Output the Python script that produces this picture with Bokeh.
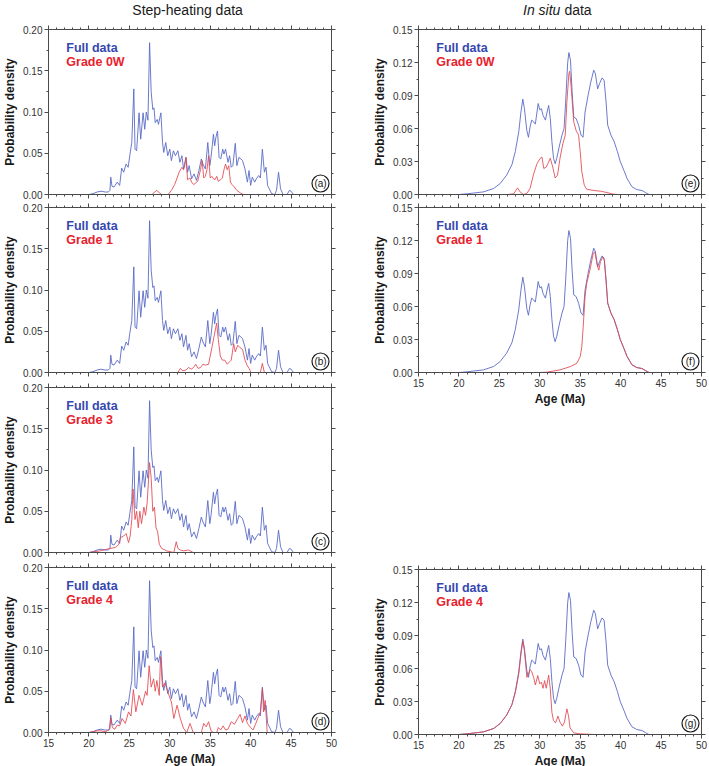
from bokeh.plotting import figure
from bokeh.models import (LinearAxis, SingleIntervalTicker, Range1d, Label,
                          NumeralTickFormatter, CustomJSTickFormatter, Spacer)
from bokeh.layouts import column, row
from bokeh.embed import file_html
from bokeh.resources import INLINE

# ---------------- data ----------------
# Step-heating, full data
sh_full_age = [15, 20.0, 20.5, 21.0, 21.5, 22.0, 22.4, 22.6, 22.7, 22.85, 23.1, 23.5, 23.8, 24.05, 24.3, 24.6,
               24.85, 25.05, 25.3, 25.55, 25.7, 25.9, 26.2, 26.4, 26.7, 26.9, 27.1, 27.3, 27.5, 27.7, 27.9,
               28.05, 28.2, 28.45, 28.6, 28.9, 29.1, 29.25, 29.5, 29.75, 30.0, 30.2, 30.45, 30.7, 31.0, 31.25,
               31.5, 31.7, 32.0, 32.2, 32.4, 32.7, 33.0, 33.3, 33.6, 33.9, 34.1, 34.4, 34.7, 34.95, 35.1, 35.4,
               35.55, 35.7, 35.9, 36.1, 36.3, 36.55, 36.7, 36.9, 37.2, 37.4, 37.6, 37.8, 38.1, 38.3, 38.55,
               38.8, 39.0, 39.3, 39.6, 39.8, 40.0, 40.2, 40.5, 40.7, 41.0, 41.2, 41.45, 41.7, 41.9, 42.1, 42.3,
               42.6, 43.0, 43.2, 43.45, 43.7, 44.0, 44.5, 44.8, 45.0, 45.3, 50]
sh_full_pd = [0, 0, 0.001, 0.003, 0.004, 0.003, 0.003, 0.005, 0.021, 0.010, 0.009, 0.015, 0.011, 0.032, 0.027,
              0.037, 0.033, 0.047, 0.063, 0.128, 0.055, 0.053, 0.099, 0.067, 0.099, 0.079, 0.100, 0.090, 0.184,
              0.124, 0.103, 0.105, 0.087, 0.091, 0.085, 0.099, 0.063, 0.051, 0.063, 0.047, 0.055, 0.041, 0.053,
              0.047, 0.053, 0.039, 0.047, 0.031, 0.045, 0.027, 0.035, 0.019, 0.025, 0.017, 0.029, 0.043, 0.037,
              0.031, 0.063, 0.035, 0.045, 0.073, 0.059, 0.069, 0.077, 0.045, 0.043, 0.055, 0.049, 0.055, 0.039,
              0.047, 0.033, 0.035, 0.062, 0.035, 0.045, 0.043, 0.041, 0.031, 0.015, 0.029, 0.011, 0.021, 0.015,
              0.019, 0.023, 0.020, 0.055, 0.027, 0.033, 0.011, 0.007, 0.001, 0, 0.005, 0.027, 0.007, 0, 0,
              0.005, 0.004, 0, 0]

# Step-heating, Grade 0W
sh_g0w_age = [15, 27.8, 28.1, 28.4, 28.7, 29.0, 29.8, 30.2, 30.6, 30.9, 31.2, 31.5, 31.7, 31.85, 32.0, 32.2,
              32.5, 32.7, 32.95, 33.2, 33.45, 33.8, 34.0, 34.2, 34.4, 34.6, 34.8, 35.0, 35.2, 35.4, 35.6, 35.8,
              36.0, 36.3, 36.5, 36.7, 36.9, 37.1, 37.3, 37.5, 37.7, 37.9, 38.3, 38.7, 39.1, 50]
sh_g0w_pd = [0, 0, 0.003, 0.005, 0.002, 0, 0, 0.005, 0.012, 0.02, 0.028, 0.033, 0.03, 0.035, 0.045, 0.018,
             0.02, 0.015, 0.012, 0.014, 0.016, 0.03, 0.041, 0.02, 0.022, 0.03, 0.047, 0.02, 0.022, 0.019, 0.018,
             0.022, 0.016, 0.018, 0.02, 0.03, 0.037, 0.03, 0.035, 0.015, 0.012, 0.01, 0.005, 0.002, 0, 0]

# Step-heating, Grade 1
sh_g1_age = [15, 31.0, 31.3, 31.6, 32.0, 32.3, 32.7, 33.0, 33.2, 33.5, 33.8, 34.1, 34.4, 34.8, 35.0, 35.2, 35.5,
             35.8, 36.0, 36.25, 36.5, 36.8, 37.1, 37.4, 37.6, 37.9, 38.1, 38.4, 38.7, 39.0, 39.3, 39.6, 39.8,
             40.05, 41.2, 41.45, 41.7, 50]
sh_g1_pd = [0, 0, 0.005, 0.002, 0.003, 0.006, 0.004, 0.007, 0.01, 0.005, 0.006, 0.01, 0.009, 0.01, 0.02, 0.03,
            0.045, 0.06, 0.04, 0.02, 0.015, 0.015, 0.01, 0.013, 0.015, 0.035, 0.025, 0.033, 0.03, 0.028, 0.015,
            0.008, 0.005, 0, 0, 0.011, 0, 0]

# Step-heating, Grade 3
sh_g3_age = [15, 20.0, 21.4, 22.6, 23.25, 23.7, 23.9, 24.3, 24.6, 24.9, 25.1, 25.3, 25.45, 25.7, 25.9, 26.1,
             26.3, 26.5, 26.8, 27.0, 27.2, 27.5, 27.7, 27.9, 28.1, 28.3, 28.5, 28.7, 29.0, 29.6, 30.5, 30.8,
             31.0, 31.3, 31.7, 32.3, 32.9, 50]
sh_g3_pd = [0, 0, 0.002, 0.005, 0.006, 0.01, 0.018, 0.02, 0.023, 0.012, 0.02, 0.04, 0.077, 0.04, 0.05, 0.03,
            0.05, 0.035, 0.055, 0.045, 0.06, 0.109, 0.09, 0.05, 0.055, 0.03, 0.025, 0.01, 0.005, 0.002, 0,
            0.013, 0.005, 0.003, 0.002, 0.003, 0, 0]

# Step-heating, Grade 4
sh_g4_age = [15, 20.0, 21.0, 21.5, 22.0, 22.5, 22.7, 22.9, 23.2, 23.5, 23.8, 24.1, 24.5, 24.9, 25.2, 25.5,
             25.8, 26.2, 26.6, 27.0, 27.2, 27.45, 27.7, 28.0, 28.2, 28.4, 28.7, 28.85, 29.1, 29.4, 29.8, 30.2,
             30.5, 30.9, 31.3, 31.7, 32.1, 32.5, 32.9, 33.9, 34.2, 34.5, 34.8, 35.1, 35.4, 35.8, 36.0, 36.3,
             36.6, 36.9, 37.2, 37.6, 38.0, 38.4, 38.7, 39.0, 39.3, 39.6, 40.0, 40.3, 40.6, 41.0, 41.2, 41.45,
             41.6, 41.8, 42.05, 50]
sh_g4_pd = [0, 0, 0.002, 0.002, 0.001, 0.003, 0.018, 0.006, 0.004, 0.009, 0.008, 0.017, 0.011, 0.025, 0.02,
            0.052, 0.025, 0.045, 0.033, 0.05, 0.045, 0.081, 0.055, 0.065, 0.05, 0.063, 0.045, 0.092, 0.055,
            0.06, 0.048, 0.037, 0.017, 0.033, 0.017, 0.005, 0, 0.011, 0, 0, 0.011, 0.007, 0.013, 0.002, 0, 0,
            0.006, 0.003, 0.008, 0.003, 0.004, 0.013, 0.01, 0.017, 0.022, 0.012, 0.02, 0.011, 0.006, 0.003,
            0.01, 0.02, 0.025, 0.053, 0.025, 0.039, 0, 0]

# In situ, full data
is_full_age = [15, 20, 21.0, 23.05, 24.3, 25.1, 25.9, 26.55, 26.97, 27.4, 27.67, 27.9, 28.1, 28.4, 28.6, 28.8,
               29.0, 29.24, 29.45, 29.8, 30.0, 30.2, 30.4, 30.7, 30.9, 31.1, 31.3, 31.5, 31.7, 31.9, 32.1,
               32.45, 32.75, 33.0, 33.2, 33.45, 33.6, 33.8, 34.0, 34.2, 34.5, 34.8, 35.1, 35.35, 35.6, 35.97,
               36.3, 36.67, 36.87, 37.16, 37.4, 37.7, 37.95, 38.2, 38.4, 38.8, 39.2, 39.6, 39.95, 40.4, 40.8,
               41.4, 42.0, 42.65, 43.06, 43.5, 50]
is_full_pd = [0, 0, 0.0006, 0.0024, 0.0055, 0.010, 0.0176, 0.027, 0.039, 0.057, 0.075, 0.0867, 0.078, 0.058,
              0.052, 0.0615, 0.0676, 0.066, 0.064, 0.0827, 0.077, 0.078, 0.072, 0.0676, 0.075, 0.081, 0.069,
              0.048, 0.033, 0.028, 0.033, 0.045, 0.054, 0.060, 0.084, 0.120, 0.129, 0.122, 0.093, 0.0706,
              0.069, 0.063, 0.054, 0.052, 0.075, 0.090, 0.102, 0.113, 0.110, 0.096, 0.101, 0.106, 0.104,
              0.084, 0.063, 0.054, 0.048, 0.039, 0.030, 0.022, 0.0145, 0.007, 0.0045, 0.0036, 0.0018, 0, 0]

# In situ, Grade 0W
is_g0w_age = [15, 26.0, 26.76, 27.25, 27.6, 28.0, 28.4, 28.8, 29.2, 29.65, 30.06, 30.27, 30.5, 30.8, 31.0,
              31.3, 31.6, 31.9, 32.2, 32.5, 32.85, 33.15, 33.35, 33.6, 33.7, 33.9, 34.2, 34.5, 34.8, 35.0,
              35.2, 35.5, 35.8, 36.7, 37.5, 38.3, 39.1, 39.6, 50]
is_g0w_pd = [0, 0, 0.0006, 0.006, 0.002, 0, 0.001, 0.0055, 0.0176, 0.028, 0.033, 0.034, 0.0236, 0.025, 0.028,
             0.033, 0.025, 0.015, 0.0176, 0.033, 0.046, 0.054, 0.084, 0.110, 0.112, 0.096, 0.066, 0.058, 0.054,
             0.039, 0.0206, 0.0085, 0.0048, 0.0036, 0.003, 0.0018, 0.0003, 0, 0]

# In situ, Grade 1
is_g1_age = [15, 30.0, 30.9, 32.5, 33.8, 34.6, 35.0, 35.2, 35.4, 35.6, 35.8, 36.2, 36.6, 36.8, 37.1, 37.3,
             37.5, 37.8, 38.0, 38.2, 38.4, 38.8, 39.2, 39.6, 39.95, 40.4, 40.8, 41.4, 42.0, 42.65, 43.06,
             43.5, 50]
is_g1_pd = [0, 0, 0.0003, 0.0024, 0.0054, 0.0085, 0.0145, 0.0236, 0.045, 0.069, 0.081, 0.093, 0.108, 0.1098,
            0.0977, 0.093, 0.1007, 0.105, 0.102, 0.0826, 0.063, 0.054, 0.048, 0.039, 0.030, 0.022, 0.0145,
            0.007, 0.0045, 0.0036, 0.0018, 0, 0]

# In situ, Grade 4
is_g4_age = [15, 20, 21.0, 23.05, 24.3, 25.1, 25.9, 26.55, 26.97, 27.4, 27.67, 27.9, 28.1, 28.4, 28.6, 28.8,
             29.0, 29.24, 29.45, 29.75, 30.0, 30.2, 30.4, 30.6, 30.8, 31.1, 31.3, 31.5, 31.7, 31.95, 32.25,
             32.5, 32.8, 33.05, 33.35, 33.55, 33.75, 34.2, 35.0, 36.7, 50]
is_g4_pd = [0, 0, 0.0006, 0.0024, 0.0055, 0.010, 0.0176, 0.027, 0.038, 0.055, 0.073, 0.085, 0.076, 0.052,
            0.055, 0.059, 0.057, 0.052, 0.045, 0.0536, 0.046, 0.0476, 0.042, 0.049, 0.042, 0.054, 0.0415,
            0.020, 0.0127, 0.0106, 0.0167, 0.0112, 0.0076, 0.0112, 0.0233, 0.017, 0.006, 0.0015, 0.0006, 0, 0]

age_range = [15, 50]
sh_pd_range = [0, 0.20]
is_pd_range = [0, 0.15]
series_labels = ["Full data", "Grade 0W", "Grade 1", "Grade 3", "Grade 4"]
panel_letters = ["a", "b", "c", "d", "e", "f", "g"]
column_titles = ["Step-heating data", "In situ", "data"]

# ---------------- styling ----------------
FONT = "Liberation Sans"
AX = "#4a4a4a"
BLUE_LINE = "#5b6cc6"
RED_LINE = "#e2464f"
BLUE_TXT = "#3548b0"
RED_TXT = "#e8232d"
FW, FH = 283, 165
TITLE_H = 22


def style_axis(ax, ticker, labels, fmt=None):
    ax.ticker = ticker
    ax.axis_line_color = AX
    ax.major_tick_line_color = AX
    ax.minor_tick_line_color = AX
    ax.major_tick_in = 0
    ax.major_tick_out = 4
    ax.minor_tick_in = 0
    ax.minor_tick_out = 2
    ax.major_label_text_font = FONT
    ax.major_label_text_font_size = "10px"
    ax.major_label_text_color = "#333333"
    ax.major_label_standoff = 2
    if fmt is not None:
        ax.formatter = fmt
    if not labels:
        ax.formatter = CustomJSTickFormatter(code="return ''")
        ax.major_label_text_font_size = "0px"
        ax.major_label_standoff = 0


def title_fig(bl, br, kind):
    t = figure(frame_width=FW, frame_height=TITLE_H, x_range=Range1d(*age_range),
               y_range=Range1d(0, 1), output_backend="svg", toolbar_location=None,
               min_border_left=bl, min_border_right=br, min_border_top=0,
               min_border_bottom=0, x_axis_location=None, y_axis_location=None,
               outline_line_color=None)
    t.xgrid.visible = False
    t.ygrid.visible = False
    ty = 1 - 9.5 / TITLE_H
    if kind == "sh":
        t.add_layout(Label(x=32.2, y=ty, text=column_titles[0], text_font=FONT,
                           text_font_size="14px", text_color="#1a1a1a",
                           text_align="center", text_baseline="middle"))
    else:
        t.add_layout(Label(x=32.55, y=ty, text=column_titles[1], text_font=FONT,
                           text_font_size="14px", text_font_style="italic",
                           text_color="#1a1a1a", text_align="right",
                           text_baseline="middle"))
        t.add_layout(Label(x=32.55, y=ty, x_offset=4, text=column_titles[2], text_font=FONT,
                           text_font_size="14px", text_color="#1a1a1a",
                           text_align="left", text_baseline="middle"))
    return t


def panel(letter, blue_x, blue_y, red_x, red_y, grade, yr, yint, xlabels,
          bl, br, bt, bb):
    ymax = yr[1]
    p = figure(frame_width=FW, frame_height=FH, x_range=Range1d(*age_range),
               y_range=Range1d(*yr), output_backend="svg", toolbar_location=None,
               min_border_left=bl, min_border_right=br, min_border_top=bt,
               min_border_bottom=bb, background_fill_color="white",
               border_fill_color="white", outline_line_color=None)
    p.xgrid.visible = False
    p.ygrid.visible = False

    style_axis(p.xaxis[0], SingleIntervalTicker(interval=5, num_minor_ticks=5), xlabels)
    style_axis(p.yaxis[0], SingleIntervalTicker(interval=yint, num_minor_ticks=2), True,
               NumeralTickFormatter(format="0.00"))
    p.yaxis.axis_label = "Probability density"
    p.yaxis.axis_label_text_font = FONT
    p.yaxis.axis_label_text_font_size = "12px"
    p.yaxis.axis_label_text_font_style = "bold"
    p.yaxis.axis_label_text_color = "#1a1a1a"
    p.yaxis.axis_label_standoff = 3
    if xlabels:
        p.xaxis.axis_label = "Age (Ma)"
        p.xaxis.axis_label_text_font = FONT
        p.xaxis.axis_label_text_font_size = "12px"
        p.xaxis.axis_label_text_font_style = "bold"
        p.xaxis.axis_label_text_color = "#1a1a1a"
        p.xaxis.axis_label_standoff = 2

    top = LinearAxis()
    style_axis(top, SingleIntervalTicker(interval=5, num_minor_ticks=5), False)
    p.add_layout(top, "above")
    right = LinearAxis()
    style_axis(right, SingleIntervalTicker(interval=yint, num_minor_ticks=2), False)
    p.add_layout(right, "right")

    p.line(blue_x, blue_y, line_color=BLUE_LINE, line_width=1, line_alpha=0.9)
    p.line(red_x, red_y, line_color=RED_LINE, line_width=1, line_alpha=0.85)

    # legend texts
    p.add_layout(Label(x=17.2, y=ymax * (1 - 18 / FH), text=series_labels[0],
                       text_font=FONT, text_font_size="12.5px", text_font_style="bold",
                       text_color=BLUE_TXT, text_baseline="middle"))
    p.add_layout(Label(x=17.2, y=ymax * (1 - 32 / FH), text=grade,
                       text_font=FONT, text_font_size="12.5px", text_font_style="bold",
                       text_color=RED_TXT, text_baseline="middle"))

    # circled panel letter
    cx = 50 - 11 * 35 / FW
    cy = ymax * 11 / FH
    p.scatter([cx], [cy], size=17, marker="circle", fill_color="white",
              line_color="#1a1a1a", line_width=1.2)
    p.add_layout(Label(x=cx, y=cy, text="(" + letter + ")", text_font=FONT,
                       text_font_size="10px", text_color="#1a1a1a",
                       text_align="center", text_baseline="middle"))
    return p


LB, LR = 48, 39
RB, RR = 48, 8

ta = title_fig(LB, LR, "sh")
pa = panel("a", sh_full_age, sh_full_pd, sh_g0w_age, sh_g0w_pd, series_labels[1], sh_pd_range, 0.05,
           False, LB, LR, 7, 6)
pb = panel("b", sh_full_age, sh_full_pd, sh_g1_age, sh_g1_pd, series_labels[2], sh_pd_range, 0.05,
           False, LB, LR, 7, 7)
pc = panel("c", sh_full_age, sh_full_pd, sh_g3_age, sh_g3_pd, series_labels[3], sh_pd_range, 0.05,
           False, LB, LR, 8, 7)
pd_ = panel("d", sh_full_age, sh_full_pd, sh_g4_age, sh_g4_pd, series_labels[4], sh_pd_range, 0.05,
            True, LB, LR, 8, 34)

te = title_fig(RB, RR, "is")
pe = panel("e", is_full_age, is_full_pd, is_g0w_age, is_g0w_pd, series_labels[1], is_pd_range, 0.03,
           False, RB, RR, 7, 6)
pf = panel("f", is_full_age, is_full_pd, is_g1_age, is_g1_pd, series_labels[2], is_pd_range, 0.03,
           True, RB, RR, 7, 34)
pg = panel("g", is_full_age, is_full_pd, is_g4_age, is_g4_pd, series_labels[4], is_pd_range, 0.03,
           True, RB, RR, 8, 34)

gap = Spacer(width=RB + FW + RR, height=153)

layout = row(column(ta, pa, pb, pc, pd_), column(te, pe, pf, gap, pg))

open("out.html", "w").write(file_html(layout, INLINE))
